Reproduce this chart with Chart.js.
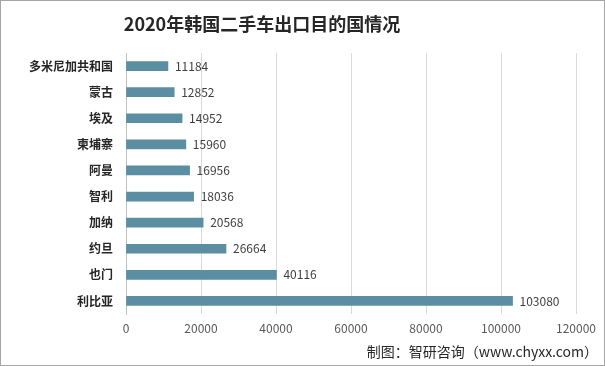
<!DOCTYPE html>
<html>
<head>
<meta charset="utf-8">
<script src="https://cdn.jsdelivr.net/npm/chart.js@4"></script>
<style>
  html, body { margin: 0; padding: 0; background: #fff; }
  #wrap { width: 605px; height: 366px; position: relative; }
</style>
</head>
<body>
<div id="wrap"><canvas id="exportChart" width="605" height="366"></canvas></div>
<script>
// data
const countries = ['多米尼加共和国', '蒙古', '埃及', '柬埔寨', '阿曼', '智利', '加纳', '约旦', '也门', '利比亚'];
const cars = [11184, 12852, 14952, 15960, 16956, 18036, 20568, 26664, 40116, 103080];
const xTicks = [0, 20000, 40000, 60000, 80000, 100000, 120000];

const titleText = '2020年韩国二手车出口目的国情况';
const sourceText = '制图：智研咨询（www.chyxx.com）';
const cjkFont = '"Noto Sans CJK SC", "Microsoft YaHei", sans-serif';

// draws title, footer, frame and value labels
const decorPlugin = {
    id: 'decor',
    afterDatasetsDraw(chart) {
        const ctx = chart.ctx;
        const meta = chart.getDatasetMeta(0);
        ctx.save();
        ctx.font = '12px ' + cjkFont;
        ctx.fillStyle = '#404040';
        ctx.textAlign = 'left';
        ctx.textBaseline = 'middle';
        meta.data.forEach((bar, i) => {
            ctx.fillText(String(cars[i]), bar.x + 7, bar.y);
        });
        ctx.restore();
    },
    afterDraw(chart) {
        const ctx = chart.ctx;
        ctx.save();
        ctx.fillStyle = '#262626';
        ctx.textBaseline = 'middle';
        ctx.textAlign = 'center';
        ctx.font = 'bold 18px ' + cjkFont;
        ctx.fillText(titleText, 262, 24);

        ctx.textAlign = 'right';
        ctx.font = '14px ' + cjkFont;
        ctx.fillText(sourceText, 598, 352);

        ctx.strokeStyle = '#a6a6a6';
        ctx.lineWidth = 1;
        ctx.strokeRect(0.5, 0.5, 604, 365);
        ctx.restore();
    }
};

const ctxBar = document.getElementById('exportChart').getContext('2d');
new Chart(ctxBar, {
    type: 'bar',
    data: {
        labels: countries,
        datasets: [{
            data: cars,
            backgroundColor: '#5b8ea3',
            barThickness: 9
        }]
    },
    options: {
        indexAxis: 'y',
        responsive: false,
        animation: false,
        layout: { padding: { top: 53, right: 29, left: 0, bottom: 0 } },
        plugins: { legend: { display: false }, tooltip: { enabled: false }, title: { display: false } },
        scales: {
            x: {
                min: 0, max: 120000,
                afterBuildTicks: axis => { axis.ticks = xTicks.map(v => ({ value: v })); },
                afterFit: axis => { axis.height = 52; },
                grid: { color: '#d9d9d9', drawTicks: false },
                border: { display: false },
                ticks: {
                    padding: 7, color: '#595959', font: { size: 12, family: cjkFont },
                    callback: v => String(v)
                }
            },
            y: {
                afterFit: axis => { axis.width = 126; },
                grid: { display: false, drawTicks: false },
                border: { display: true, color: '#bfbfbf' },
                ticks: { padding: 13, color: '#262626', font: { size: 12, weight: 'bold', family: cjkFont } }
            }
        }
    },
    plugins: [decorPlugin]
});
</script>
</body>
</html>
